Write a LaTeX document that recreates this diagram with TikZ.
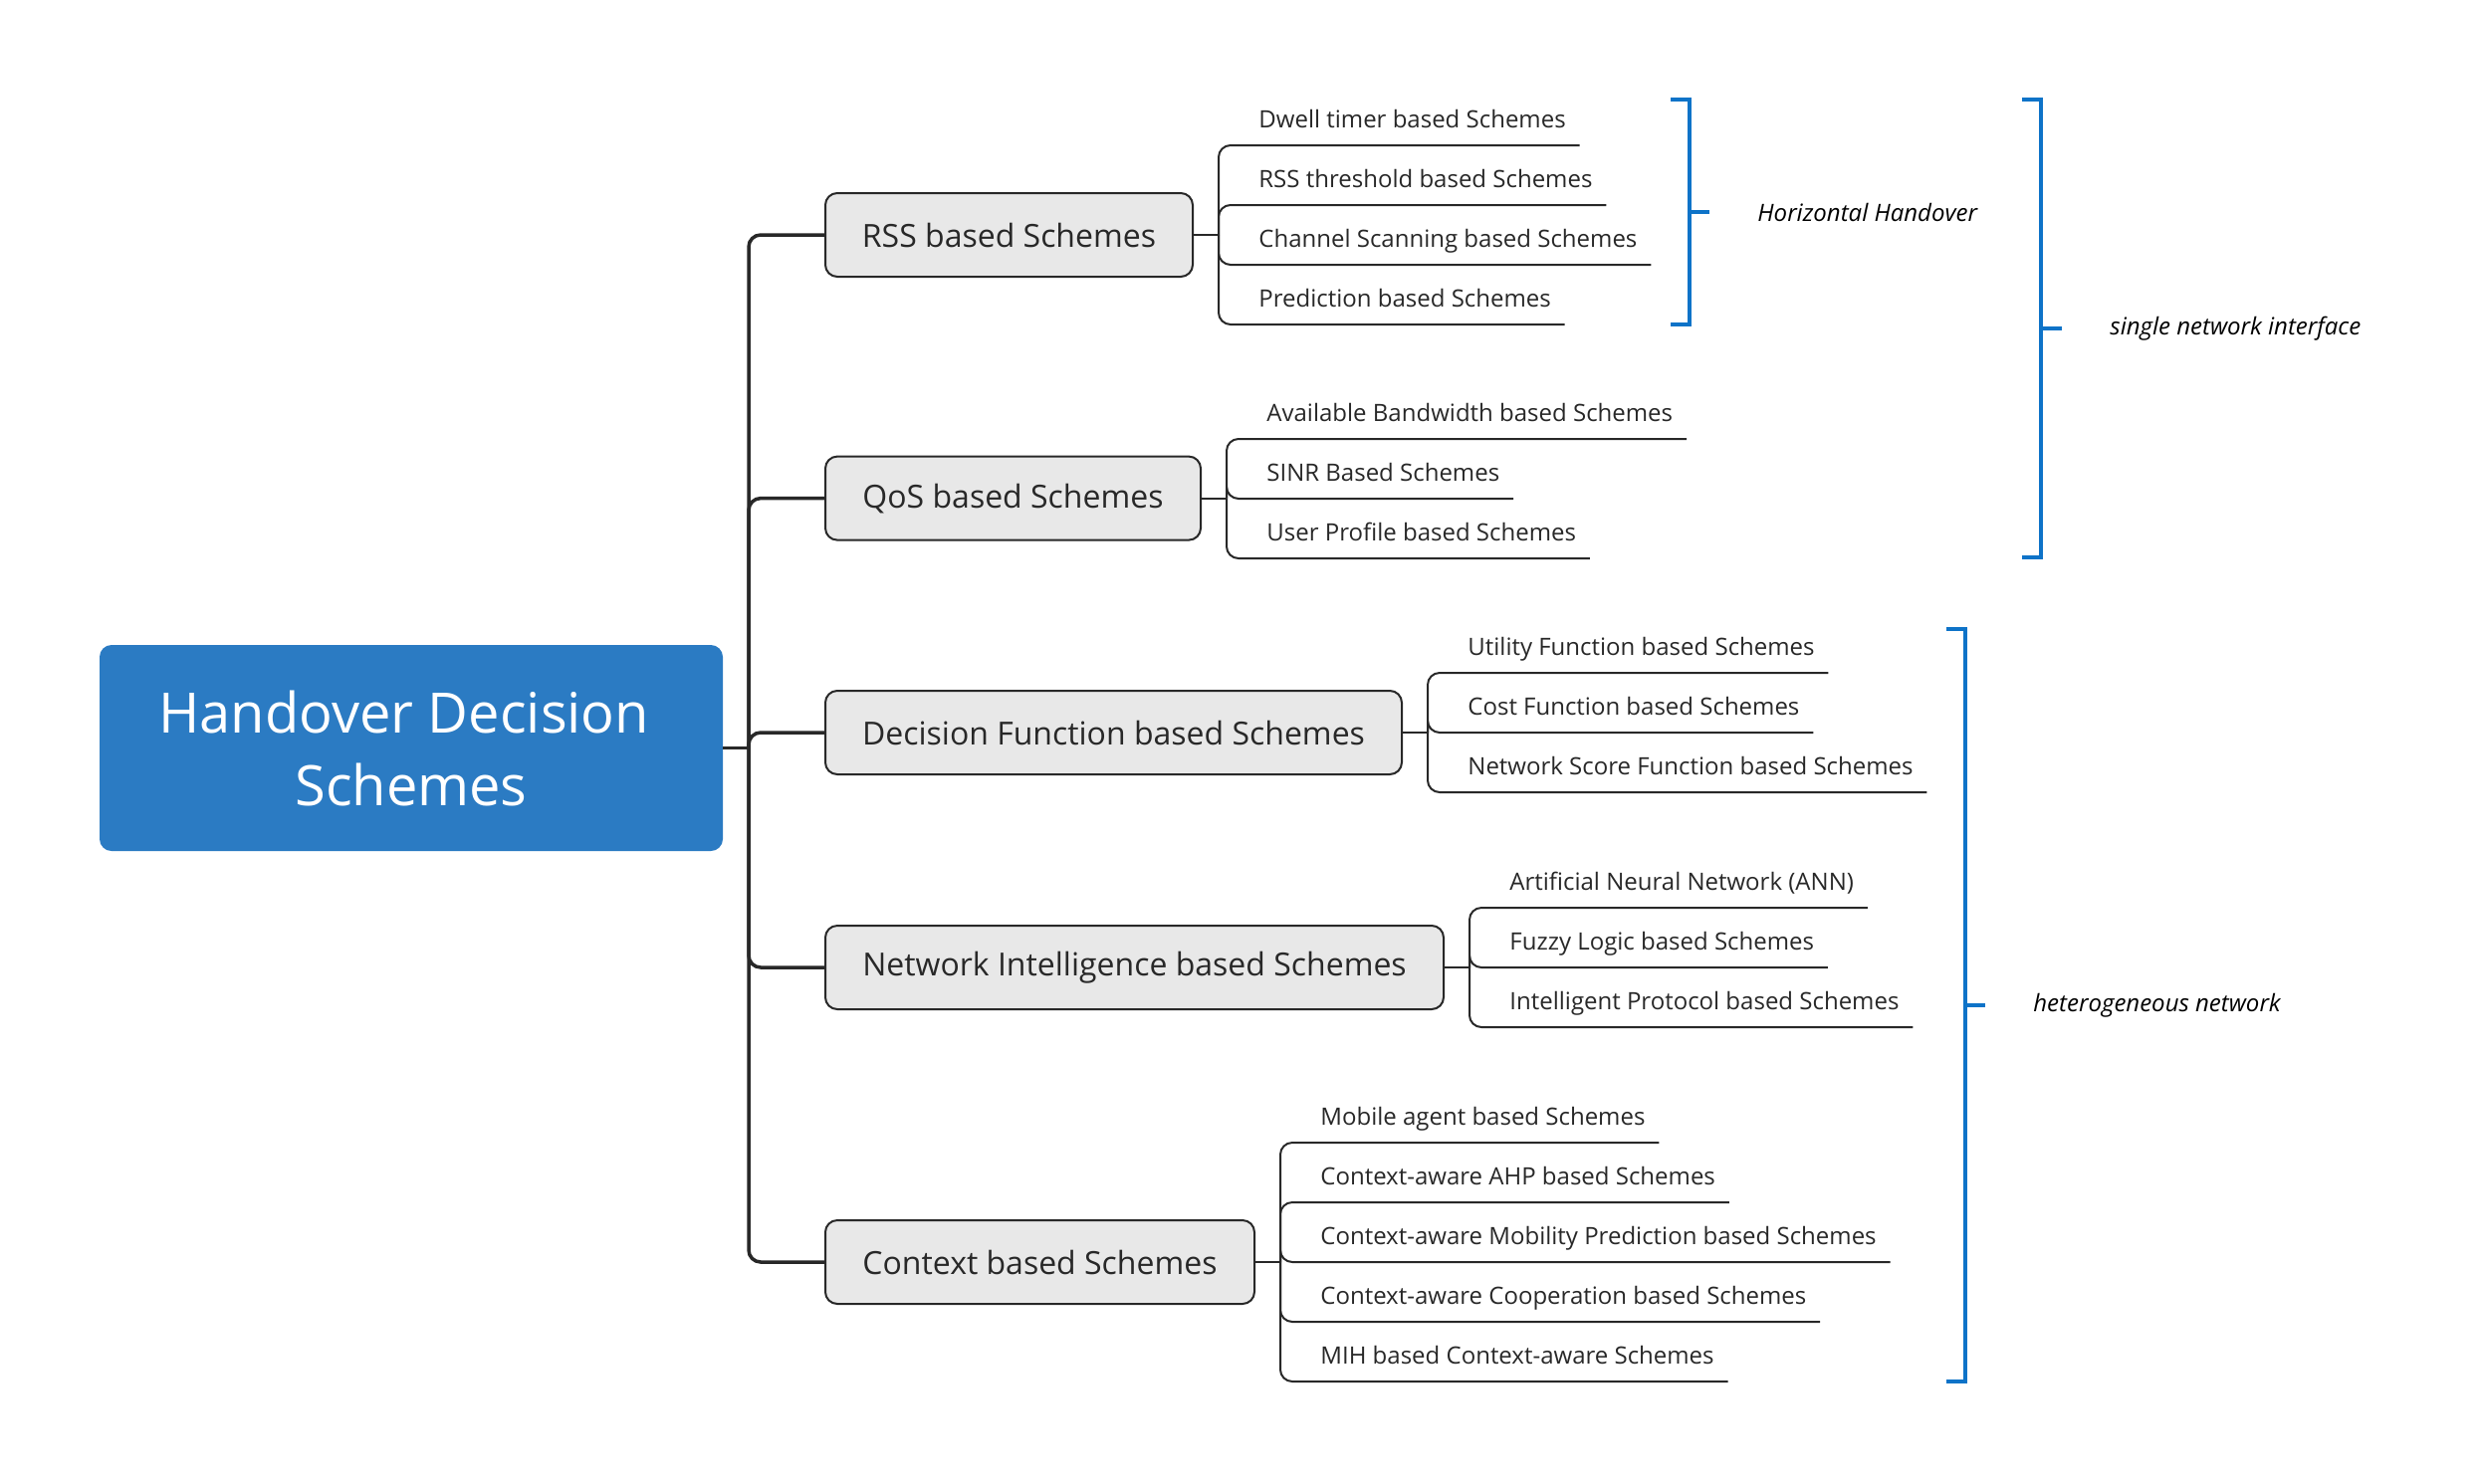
\documentclass[tikz,border=0pt]{standalone}
\usepackage{fontspec}
\setmainfont{Open Sans}
\usetikzlibrary{calc}
\definecolor{rootblue}{RGB}{43,123,195}
\definecolor{brblue}{RGB}{14,115,200}
\definecolor{boxfill}{RGB}{232,232,232}
\definecolor{ink}{RGB}{40,40,40}
\newcommand\leafnode[5]{%
  \coordinate (#1u) at (#3,#4);
  \node[leaf, anchor=base west] (#1) at (#3+26.5,#4-18) {#5};
  \draw[conn] (#2.east) -- (#1u |- #2.east);
  \draw[conn, rounded corners=6pt] (#1u |- #2.east) |- (#1.east |- #1u);
}
\begin{document}
\begin{tikzpicture}[x=0.5pt,y=-0.5pt,
  rootbox/.style={fill=rootblue, rounded corners=6pt, text=white, minimum width=313pt, minimum height=103.5pt, align=center, font=\fontsize{28}{36.5}\selectfont, inner sep=0pt},
  box/.style={fill=boxfill, draw=ink, line width=1pt, rounded corners=6pt, minimum height=42pt, inner xsep=0pt, font=\fontsize{16}{19}\selectfont, text=ink, anchor=west},
  leaf/.style={inner xsep=6.75pt, inner ysep=0pt, font=\fontsize{12}{14}\selectfont, text=ink},
  trunk/.style={draw=ink, line width=1.75pt},
  conn/.style={draw=ink, line width=1pt},
  bracket/.style={draw=brblue, line width=2pt},
  note/.style={font=\fontsize{12}{14}\selectfont\itshape, anchor=west, inner xsep=0pt, text=black}]
\useasboundingbox (0,0) rectangle (2496,1490);

% root
\node[rootbox] (root) at (413,751.5) {Handover Decision\hspace*{0.26em}\\Schemes};

% level-1 boxes
\node[box, minimum width=184.5pt] (rss) at (828,236) {RSS based Schemes};
\node[box, minimum width=188.5pt] (qos) at (828,500.6) {QoS based Schemes};
\node[box, minimum width=289.5pt] (dec) at (828,736) {Decision Function based Schemes};
\node[box, minimum width=310.5pt] (ni) at (828,972) {Network Intelligence based Schemes};
\node[box, minimum width=215.5pt] (ctx) at (828,1268) {Context based Schemes};

% trunk
\coordinate (tj) at (752,751.5);
\draw[trunk] (root.east) -- (tj);
\foreach \b in {rss,qos,dec,ni,ctx}
  \draw[trunk, rounded corners=6pt] (tj) |- (\b.west);

% RSS leaves
\leafnode{l11}{rss}{1224}{146}{Dwell timer based Schemes}
\leafnode{l12}{rss}{1224}{206}{RSS threshold based Schemes}
\leafnode{l13}{rss}{1224}{266}{Channel Scanning based Schemes}
\leafnode{l14}{rss}{1224}{326}{Prediction based Schemes}
% QoS leaves
\leafnode{l21}{qos}{1232}{441}{Available Bandwidth based Schemes}
\leafnode{l22}{qos}{1232}{501}{SINR Based Schemes}
\leafnode{l23}{qos}{1232}{561}{User Profile based Schemes}
% Decision leaves
\leafnode{l31}{dec}{1434}{676}{Utility Function based Schemes}
\leafnode{l32}{dec}{1434}{736}{Cost Function based Schemes}
\leafnode{l33}{dec}{1434}{796}{Network Score Function based Schemes}
% NI leaves
\leafnode{l41}{ni}{1476}{912}{Artificial Neural Network (ANN)}
\leafnode{l42}{ni}{1476}{972}{Fuzzy Logic based Schemes}
\leafnode{l43}{ni}{1476}{1032}{Intelligent Protocol based Schemes}
% Context leaves
\leafnode{l51}{ctx}{1286}{1148}{Mobile agent based Schemes}
\leafnode{l52}{ctx}{1286}{1208}{Context-aware AHP based Schemes}
\leafnode{l53}{ctx}{1286}{1268}{Context-aware Mobility Prediction based Schemes}
\leafnode{l54}{ctx}{1286}{1328}{Context-aware Cooperation based Schemes}
\leafnode{l55}{ctx}{1286}{1388}{MIH based Context-aware Schemes}

% brackets
\draw[bracket] (1678,100) -- (1697,100) -- (1697,326) -- (1678,326);
\draw[bracket] (1697,213) -- (1717,213);
\node[note] (hh) at (1765,213) {Horizontal Handover};

\draw[bracket] (2031,100) -- (2050,100) -- (2050,560) -- (2031,560);
\draw[bracket] (2050,330) -- (2071,330);
\node[note] (sni) at (2119,330) {single network interface};

\draw[bracket] (1955,632) -- (1974,632) -- (1974,1388) -- (1955,1388);
\draw[bracket] (1974,1010) -- (1994,1010);
\node[note] (het) at (2042,1010) {heterogeneous network};
\end{tikzpicture}
\end{document}
